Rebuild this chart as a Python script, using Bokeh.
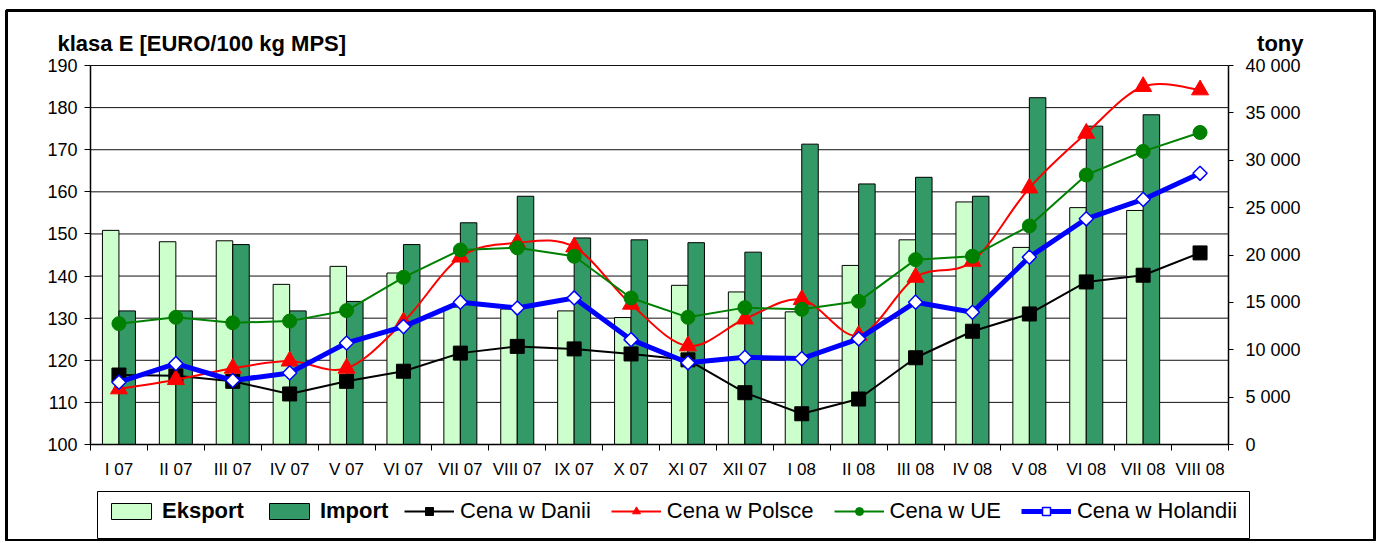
from bokeh.plotting import figure
from bokeh.models import (Range1d, LinearAxis, FixedTicker, Legend, LegendItem, Label,
                          ColumnDataSource, BoxAnnotation)
from bokeh.embed import file_html
from bokeh.resources import INLINE
import numpy as np

months = ["I 07", "II 07", "III 07", "IV 07", "V 07", "VI 07", "VII 07", "VIII 07",
          "IX 07", "X 07", "XI 07", "XII 07", "I 08", "II 08", "III 08", "IV 08",
          "V 08", "VI 08", "VII 08", "VIII 08"]
eksport = [22600, 21400, 21500, 16900, 18800, 18100, 14500, 14300, 14100, 13400,
           16800, 16100, 14000, 18900, 21600, 25600, 20800, 25000, 24700, None]
importt = [14100, 14100, 21100, 14100, 15100, 21100, 23400, 26200, 21800, 21600,
           21300, 20300, 31700, 27500, 28200, 26200, 36600, 33600, 34800, None]
dania = [116.5, 116.3, 115.0, 112.0, 115.0, 117.4, 121.7, 123.3, 122.7, 121.5,
         120.1, 112.3, 107.3, 110.8, 120.6, 126.9, 131.0, 138.6, 140.2, 145.5]
polska = [113.2, 115.4, 118.1, 119.8, 118.1, 129.1, 144.5, 147.9, 146.9, 133.3,
          123.4, 129.8, 134.4, 125.9, 139.7, 143.5, 160.9, 173.9, 185.0, 184.2]
ue = [128.7, 130.2, 128.9, 129.3, 131.8, 139.7, 146.2, 146.7, 144.7, 134.8,
      130.2, 132.5, 132.1, 134.0, 143.9, 144.7, 151.9, 164.0, 169.6, 174.1]
holandia = [114.8, 119.2, 115.2, 117.0, 124.1, 128.0, 133.8, 132.4, 134.8, 124.9,
            119.4, 120.7, 120.4, 125.1, 133.8, 131.4, 144.5, 153.6, 158.2, 164.4]
price_ticks = [100, 110, 120, 130, 140, 150, 160, 170, 180, 190]
ton_ticks = [0, 5000, 10000, 15000, 20000, 25000, 30000, 35000, 40000]
ton_labels = ["0", "5 000", "10 000", "15 000", "20 000", "25 000", "30 000", "35 000", "40 000"]

FONT = "Liberation Sans"
n = len(months)
xc = np.arange(n) + 0.5
bw = 0.29

# ---- layout geometry (page pixels) ----
W, H = 1378, 541
FX0, FX1, FY0, FY1 = 6, 1374, 10, 541      # outer chart frame
PX0, PX1, PY_TOP, PY_BOT = 90, 1228, 65, 444  # plot area
pmin, pmax = price_ticks[0], price_ticks[-1]
tmin, tmax = ton_ticks[0], ton_ticks[-1]
sx = (PX1 - PX0) / n
sy = (PY_BOT - PY_TOP) / (pmax - pmin)


def dx(px):
    return (px - PX0) / sx


def dy(py):
    return pmin + (PY_BOT - py) / sy


k = (tmax - tmin) / (pmax - pmin)
y_start, y_end = dy(FY1), dy(FY0)

p = figure(width=W, height=H, x_range=Range1d(dx(FX0), dx(FX1)), y_range=Range1d(y_start, y_end),
           output_backend="svg", toolbar_location=None,
           min_border_left=FX0, min_border_right=W - FX1, min_border_top=FY0, min_border_bottom=H - FY1)
p.outline_line_color = "black"
p.outline_line_width = 3
p.extra_y_ranges = {"tony": Range1d(tmin + (y_start - pmin) * k, tmin + (y_end - pmin) * k)}
p.xgrid.visible = False
p.ygrid.visible = False

# horizontal grid lines across the plot area
p.segment(x0=[0] * len(price_ticks), x1=[n] * len(price_ticks), y0=price_ticks, y1=price_ticks,
          line_color="#111111", line_width=1, level="underlay")

# left axis
ly = p.yaxis[0]
ly.fixed_location = 0
ly.bounds = (pmin, pmax)
ly.ticker = FixedTicker(ticks=price_ticks)
ly.major_tick_out = 6
ly.major_tick_in = 0
ly.minor_tick_line_color = None
ly.major_label_text_font = FONT
ly.major_label_text_font_size = "18px"
ly.major_label_text_color = "black"
ly.major_label_standoff = 7
ly.axis_line_color = "black"
ly.axis_line_width = 1.5

# right axis
ry = LinearAxis(y_range_name="tony", ticker=FixedTicker(ticks=ton_ticks),
                major_label_overrides=dict(zip(ton_ticks, ton_labels)))
ry.fixed_location = n
ry.bounds = (tmin, tmax)
ry.major_tick_out = 5
ry.major_tick_in = 0
ry.minor_tick_line_color = None
ry.major_label_text_font = FONT
ry.major_label_text_font_size = "18px"
ry.major_label_text_color = "black"
ry.major_label_standoff = 12
ry.axis_line_color = "black"
ry.axis_line_width = 1.5
p.add_layout(ry, "right")

# x axis
xa = p.xaxis[0]
xa.fixed_location = pmin
xa.bounds = (0, n)
xa.ticker = FixedTicker(ticks=list(xc), minor_ticks=list(range(n + 1)))
xa.major_label_overrides = {float(x): m for x, m in zip(xc, months)}
xa.major_tick_line_color = None
xa.major_tick_out = 6
xa.major_tick_in = 0
xa.minor_tick_out = 6
xa.minor_tick_in = 0
xa.minor_tick_line_color = "black"
xa.major_label_text_font = FONT
xa.major_label_text_font_size = "17px"
xa.major_label_text_color = "black"
xa.major_label_standoff = 9
xa.axis_line_color = "black"
xa.axis_line_width = 1.5

# bars
ek_idx = [i for i, v in enumerate(eksport) if v is not None]
im_idx = [i for i, v in enumerate(importt) if v is not None]
src_e = ColumnDataSource(dict(x=[xc[i] - bw / 2 for i in ek_idx], top=[eksport[i] for i in ek_idx]))
src_i = ColumnDataSource(dict(x=[xc[i] + bw / 2 for i in im_idx], top=[importt[i] for i in im_idx]))
r_e = p.vbar(x="x", top="top", bottom=tmin, width=bw, source=src_e, y_range_name="tony",
             fill_color="#CCFFCC", line_color="black", line_width=1)
r_i = p.vbar(x="x", top="top", bottom=tmin, width=bw, source=src_i, y_range_name="tony",
             fill_color="#339966", line_color="black", line_width=1)

# Dania
l_d = p.line(xc, dania, line_color="black", line_width=2)
m_d = p.scatter(xc, dania, marker="square", size=14, fill_color="black", line_color="black")

# Polska (smoothed line through the points)
P = np.column_stack([xc, np.array(polska)])
x0s, y0s, x1s, y1s, cx0, cy0, cx1, cy1 = [], [], [], [], [], [], [], []
for i in range(n - 1):
    pm = P[i - 1] if i > 0 else P[i]
    pp = P[i + 2] if i + 2 < n else P[i + 1]
    c0 = P[i] + (P[i + 1] - pm) / 6.0
    c1 = P[i + 1] - (pp - P[i]) / 6.0
    x0s.append(P[i][0]); y0s.append(P[i][1])
    x1s.append(P[i + 1][0]); y1s.append(P[i + 1][1])
    cx0.append(c0[0]); cy0.append(c0[1])
    cx1.append(c1[0]); cy1.append(c1[1])
l_p = p.bezier(x0=x0s, y0=y0s, x1=x1s, y1=y1s, cx0=cx0, cy0=cy0, cx1=cx1, cy1=cy1,
               line_color="red", line_width=2)
m_p = p.scatter(xc, polska, marker="triangle", size=17, fill_color="red", line_color="red")

# UE
l_u = p.line(xc, ue, line_color="#008000", line_width=2)
m_u = p.scatter(xc, ue, marker="circle", size=14, fill_color="#008000", line_color="#008000")

# Holandia
l_h = p.line(xc, holandia, line_color="#0000FF", line_width=5)
m_h = p.scatter(xc, holandia, marker="square", angle=np.pi / 4, size=10,
                fill_color="white", line_color="#0000FF", line_width=1.5)

# legend frame
LG_L, LG_R, LG_T, LG_B = 97, 1249, 491, 538
p.add_layout(BoxAnnotation(left=dx(LG_L), right=dx(LG_R), top=dy(LG_T), bottom=dy(LG_B),
                           fill_alpha=0, line_color="black", line_width=1, line_alpha=1))

# legends: bold bar labels + regular line labels
common = dict(orientation="horizontal", padding=9, spacing=20, margin=0,
              glyph_width=50, glyph_height=20, label_standoff=6,
              label_text_font=FONT, label_text_font_size="22px", label_text_color="black",
              border_line_alpha=0, background_fill_alpha=0)
legB = Legend(items=[
    LegendItem(label="Eksport", renderers=[r_e]),
    LegendItem(label="Import", renderers=[r_i]),
], location=(LG_L - FX0, 8), label_text_font_style="bold", **common)
legA = Legend(items=[
    LegendItem(label="Cena w Danii", renderers=[l_d, m_d]),
    LegendItem(label="Cena w Polsce", renderers=[l_p, m_p]),
    LegendItem(label="Cena w UE", renderers=[l_u, m_u]),
    LegendItem(label="Cena w Holandii", renderers=[l_h, m_h]),
], location=(395 - FX0, 8), **common)
p.add_layout(legB, "center")
p.add_layout(legA, "center")

# axis titles
p.add_layout(Label(x=dx(57), y=dy(43), text="klasa E [EURO/100 kg MPS]", text_font=FONT,
                   text_font_size="22px", text_font_style="bold", text_color="black",
                   text_baseline="alphabetic", text_align="left"))
p.add_layout(Label(x=dx(1303), y=dy(43), text="tony", text_font=FONT,
                   text_font_size="22px", text_font_style="bold", text_color="black",
                   text_baseline="alphabetic", text_align="right"))

open("out.html", "w").write(file_html(p, INLINE))
